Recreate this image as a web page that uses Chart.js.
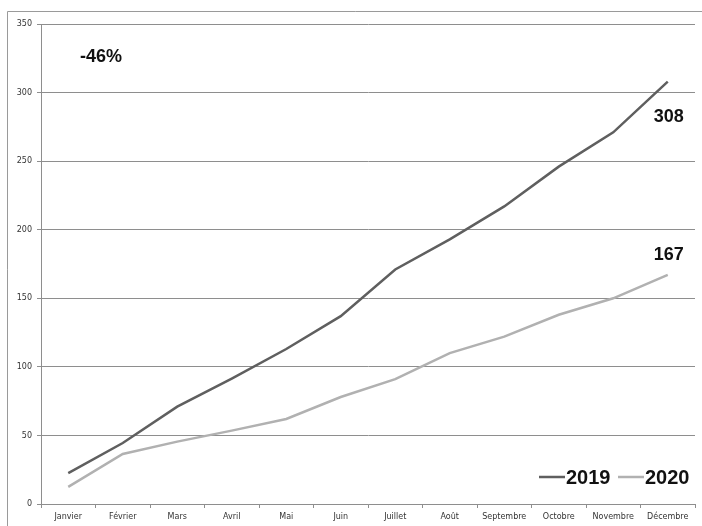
<!DOCTYPE html>
<html>
<head>
<meta charset="utf-8">
<script src="https://cdn.jsdelivr.net/npm/chart.js@4"></script>
<style>
  html, body { margin: 0; padding: 0; background: #fff; }
  #wrap { width: 702px; height: 526px; position: relative; }
</style>
</head>
<body>
<div id="wrap"><canvas id="c" width="702" height="526"></canvas></div>
<script>
const months = ["Janvier", "Février", "Mars", "Avril", "Mai", "Juin", "Juillet", "Août", "Septembre", "Octobre", "Novembre", "Décembre"];
const values2019 = [22.5, 44.5, 71, 91.5, 113, 137, 171, 193, 217, 246, 271, 308];
const values2020 = [12.5, 36.5, 45.5, 53.5, 62, 78, 91, 110, 122, 138, 150, 167];
const seriesNames = ["2019", "2020"];
const yTicks = [0, 50, 100, 150, 200, 250, 300, 350];

const color2019 = "#5f5f5f";
const color2020 = "#b1b1b1";
const gridColor = "#8e8e8e";

const framePlugin = {
  id: "frame",
  beforeDraw(chart) {
    const ctx = chart.ctx;
    ctx.save();
    ctx.fillStyle = "#fff";
    ctx.fillRect(0, 0, chart.width, chart.height);
    ctx.strokeStyle = "#9a9a9a";
    ctx.lineWidth = 1;
    ctx.beginPath();
    ctx.moveTo(7.5, chart.height + 5);
    ctx.lineTo(7.5, 11.5);
    ctx.lineTo(chart.width + 5, 11.5);
    ctx.stroke();
    ctx.restore();
  }
};

const labelsPlugin = {
  id: "labels",
  afterDatasetsDraw(chart) {
    const ctx = chart.ctx;
    const m0 = chart.getDatasetMeta(0).data;
    const m1 = chart.getDatasetMeta(1).data;
    const last = values2019.length - 1;
    ctx.save();
    ctx.fillStyle = "#111";
    ctx.font = "bold 18px 'Liberation Sans', Arial, sans-serif";
    ctx.textAlign = "center";
    ctx.textBaseline = "middle";
    const p0 = m0[last], p1 = m1[last];
    ctx.fillText(String(Math.round(values2019[last])), p0.x + 1, p0.y + 35);
    ctx.fillText(String(Math.round(values2020[last])), p1.x + 1, p1.y - 20);
    // percent change
    const pct = Math.round((values2020[last] - values2019[last]) / values2019[last] * 100);
    ctx.textAlign = "left";
    ctx.fillText((pct > 0 ? "+" : "") + pct + "%", 80, 57);

    // legend
    const ca = chart.chartArea;
    ctx.font = "bold 20px 'Liberation Sans', Arial, sans-serif";
    const ly = 477;
    const items = [
      { name: seriesNames[0], color: color2019, x: 539 },
      { name: seriesNames[1], color: color2020, x: 618 }
    ];
    items.forEach(it => {
      ctx.strokeStyle = it.color;
      ctx.lineWidth = 2.5;
      ctx.beginPath();
      ctx.moveTo(it.x, ly);
      ctx.lineTo(it.x + 26, ly);
      ctx.stroke();
      ctx.fillStyle = "#111";
      ctx.textAlign = "left";
      ctx.fillText(it.name, it.x + 27, ly + 1);
    });
    ctx.restore();
  }
};

new Chart(document.getElementById("c"), {
  type: "line",
  data: {
    labels: months,
    datasets: [
      { label: seriesNames[0], data: values2019, borderColor: color2019, borderWidth: 2.5, pointRadius: 0, tension: 0, fill: false },
      { label: seriesNames[1], data: values2020, borderColor: color2020, borderWidth: 2.5, pointRadius: 0, tension: 0, fill: false }
    ]
  },
  options: {
    responsive: false,
    animation: false,
    devicePixelRatio: 1,
    layout: { padding: { top: 24, right: 7, left: 0, bottom: 0 } },
    plugins: { legend: { display: false }, tooltip: { enabled: false } },
    scales: {
      x: {
        offset: true,
        grid: { display: true, drawOnChartArea: false, drawTicks: true, tickLength: 4, color: gridColor, offset: true },
        border: { display: true, color: gridColor, width: 1 },
        ticks: { color: "#333", font: { family: "'DejaVu Sans', sans-serif", size: 8 }, padding: 4, maxRotation: 0, autoSkip: false },
        afterFit(scale) { scale.height = 22; }
      },
      y: {
        min: 0, max: 350,
        afterBuildTicks(scale) { scale.ticks = yTicks.map(v => ({ value: v })); },
        grid: { color: gridColor, lineWidth: 1, drawTicks: true, tickLength: 4 },
        border: { display: true, color: gridColor, width: 1 },
        ticks: { color: "#333", font: { family: "'DejaVu Sans', sans-serif", size: 8 }, padding: 5 },
        afterFit(scale) { scale.width = 41; }
      }
    }
  },
  plugins: [framePlugin, labelsPlugin]
});
</script>
</body>
</html>
